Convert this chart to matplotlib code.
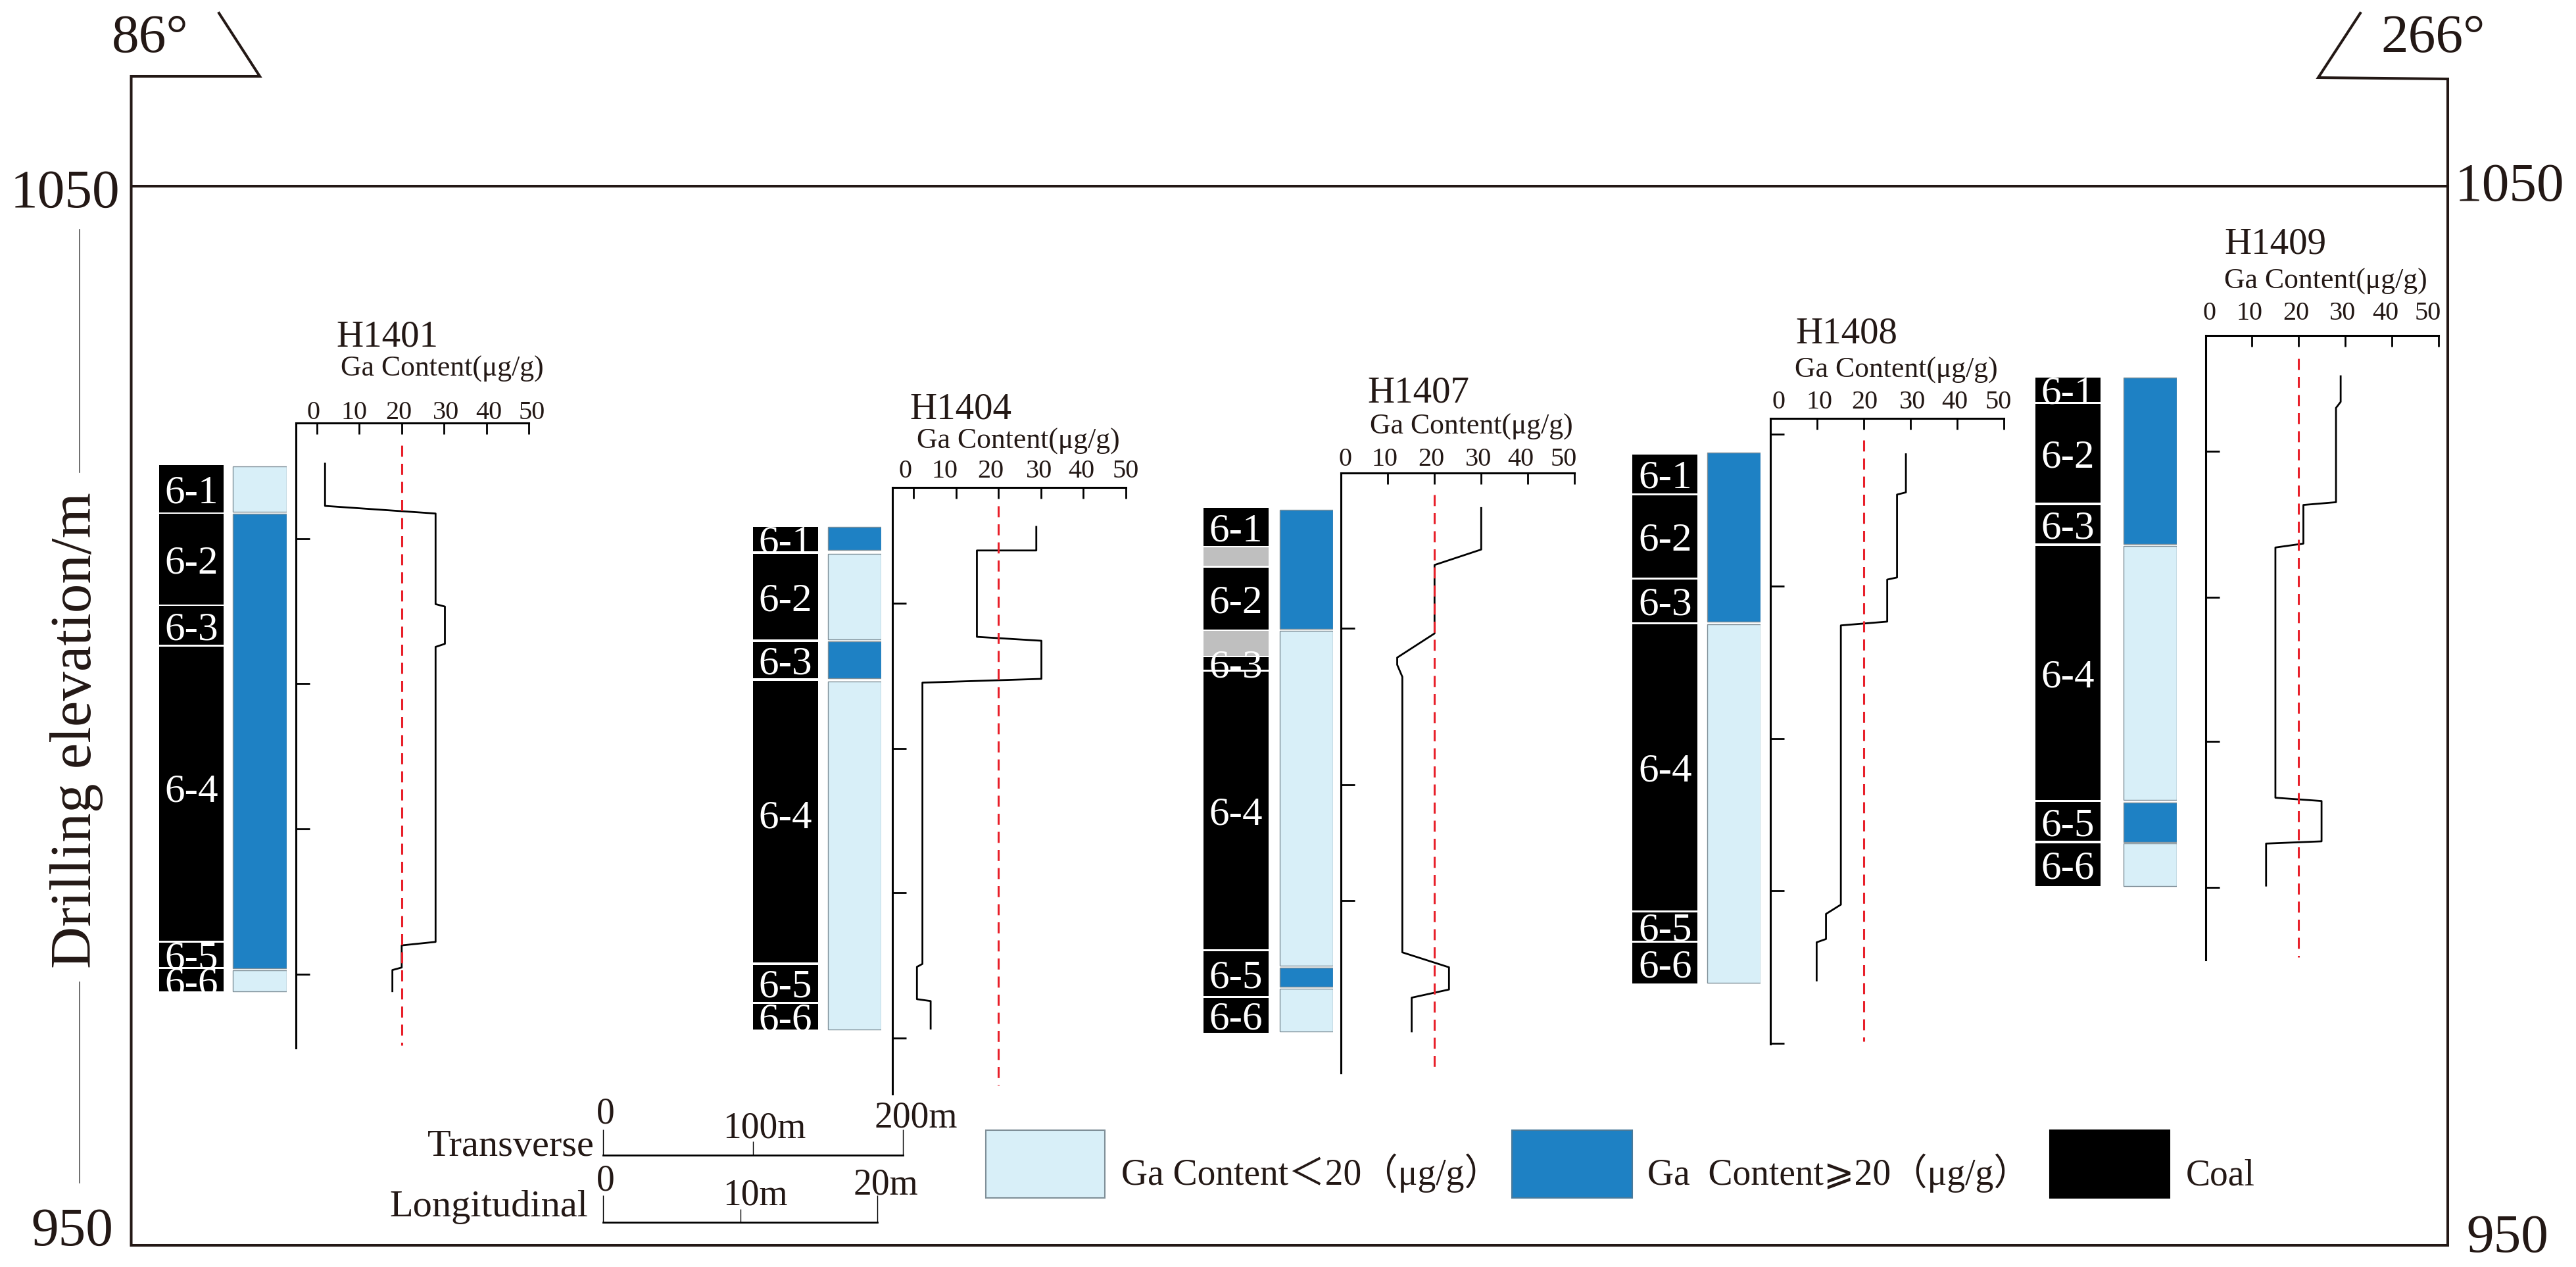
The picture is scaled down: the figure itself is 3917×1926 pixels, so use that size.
"""Ga content sections for drill holes H1401 to H1409."""

import matplotlib
matplotlib.use('Agg')
import matplotlib.pyplot as plt
from matplotlib.patches import Rectangle
from matplotlib.transforms import ScaledTranslation

plt.rcParams['font.family'] = ['Liberation Serif', 'DejaVu Serif', 'Noto Sans CJK SC', 'DejaVu Sans']

W, H = 3917, 1926
DPI = 100

INK = '#231815'
DARK = '#1e81c4'
LIGHT = '#d8eff8'
GREY = '#bfbfbf'
RED = '#e8202a'

layer_names = ['6-1', '6-2', '6-3', '6-4', '6-5', '6-6']
ga_ticks = [0, 10, 20, 30, 40, 50]

# all depths are elevations in metres
h1401_coal_top = [1023.58, 1018.97, 1010.26, 1006.41, 978.49, 975.97]
h1401_coal_bot = [1019.11, 1010.41, 1006.60, 978.68, 976.16, 973.88]
h1401_ga_top = [1023.44, 1018.97, 975.83]
h1401_ga_bot = [1019.20, 976.02, 973.88]
h1401_ga_high = [False, True, False]
h1401_curve_ga = [1.9, 1.9, 28, 28, 30.2, 30.2, 28, 28, 20, 20, 17.8, 17.8]
h1401_curve_el = [1023.72, 1019.73, 1019.01, 1010.45, 1010.22, 1006.70, 1006.41, 978.54, 978.21, 976.12, 975.88, 973.88]
h1401_ticks = [1016.64, 1002.94, 989.24, 975.50]

h1404_coal_top = [1017.75, 1015.20, 1006.86, 1003.21, 976.36, 972.67]
h1404_coal_bot = [1015.43, 1007.09, 1003.44, 976.59, 972.90, 970.26]
h1404_ga_top = [1017.75, 1015.20, 1006.90, 1003.12]
h1404_ga_bot = [1015.56, 1007.13, 1003.44, 970.26]
h1404_ga_high = [True, False, True, False]
h1404_curve_ga = [28.9, 28.9, 14.9, 14.9, 30.1, 30.1, 2.06, 2.06, 0.77, 0.77, 4.0, 4.0]
h1404_curve_el = [1017.75, 1015.52, 1015.52, 1007.36, 1006.99, 1003.39, 1003.03, 976.46, 976.18, 973.13, 972.95, 970.35]
h1404_ticks = [1010.55, 996.83, 983.16, 969.44]

h1407_coal_top = [1019.57, 1013.92, 1005.45, 1004.08, 977.64, 973.27]
h1407_coal_bot = [1015.93, 1008.04, 1004.26, 977.82, 973.45, 969.98]
h1407_gap_top = [1015.79, 1007.91]
h1407_gap_bot = [1014.06, 1005.58]
h1407_ga_top = [1019.39, 1007.91, 976.09, 974.13]
h1407_ga_bot = [1008.13, 976.27, 974.31, 970.08]
h1407_ga_high = [True, False, True, False]
h1407_curve_ga = [30, 30, 20, 20, 12, 12, 13.1, 13.1, 23.1, 23.1, 15.1, 15.1]
h1407_curve_el = [1019.53, 1015.61, 1014.15, 1007.68, 1005.40, 1004.72, 1003.58, 977.55, 976.14, 974.04, 973.27, 970.08]
h1407_ticks = [1008.18, 993.41, 982.43]

h1408_coal_top = [1024.61, 1020.75, 1012.77, 1008.54, 981.34, 978.45]
h1408_coal_bot = [1020.90, 1012.97, 1008.75, 981.54, 978.66, 974.64]
h1408_ga_top = [1024.77, 1008.54]
h1408_ga_bot = [1008.80, 974.69]
h1408_ga_high = [True, False]
h1408_curve_ga = [29, 29, 27.1, 27.1, 25, 25, 15.08, 15.08, 11.9, 11.9, 9.9, 9.9]
h1408_curve_el = [1024.61, 1021.01, 1020.80, 1012.97, 1012.77, 1008.80, 1008.44, 982.06, 981.18, 978.81, 978.50, 974.90]
h1408_ticks = [1026.52, 1012.15, 997.72, 983.35, 968.97]

h1409_coal_top = [1031.88, 1029.35, 1019.82, 1015.96, 991.74, 987.88]
h1409_coal_bot = [1029.56, 1020.03, 1016.17, 991.95, 988.09, 983.81]
h1409_ga_top = [1031.88, 1015.96, 991.69, 987.83]
h1409_ga_bot = [1016.11, 991.95, 987.98, 983.81]
h1409_ga_high = [True, False, True, False]
h1409_curve_ga = [29, 29, 28, 28, 21, 21, 15, 15, 24.9, 24.9, 13, 13]
h1409_curve_el = [1031.98, 1029.56, 1028.99, 1020.08, 1019.82, 1016.17, 1015.80, 992.16, 991.85, 988.04, 987.83, 983.86]
h1409_ticks = [1024.87, 1011.12, 997.46, 983.71]

ga_limit = 20
transverse_scale = [0, 100, 200]
longitudinal_scale = [0, 10, 20]

Y1050, Y950 = 282.0, 1891.0


def py(elev):
    return Y1050 + (1050 - elev) * (Y950 - Y1050) / 100.0


def add_ax(fig, left, top, right, bottom):
    return fig.add_axes([left / W, 1 - bottom / H, (right - left) / W, (bottom - top) / H])


# layout of each hole, all in pixels of the final picture
wells = [
    dict(name='H1401', coal=(h1401_coal_top, h1401_coal_bot), gaps=([], []),
         ga=(h1401_ga_top, h1401_ga_bot, h1401_ga_high),
         curve=(h1401_curve_ga, h1401_curve_el), ticks=h1401_ticks,
         col=(242, 340, 354, 436), x=(449.5, 804, -5.05), span=(1027.58, 968.55), red=(1025.43, 968.79),
         title=(511.3, 526.5, 41), sub=(517.7, 572, 31.5), gap=5.5, dx=[-6, -8, -4, 3, 4, 5], lift=0.6),
    dict(name='H1404', coal=(h1404_coal_top, h1404_coal_bot), gaps=([], []),
         ga=(h1404_ga_top, h1404_ga_bot, h1404_ga_high),
         curve=(h1404_curve_ga, h1404_curve_el), ticks=h1404_ticks,
         col=(1144.8, 1244.3, 1259.2, 1340.4), x=(1357, 1711.9, -5.01), span=(1021.49, 964.15), red=(1019.76, 964.97),
         title=(1383.6, 636.5, 41), sub=(1394, 682, 31.5), gap=14.7, dx=[-13, -17, -12, -3, -3, 0], lift=0.7),
    dict(name='H1407', coal=(h1407_coal_top, h1407_coal_bot), gaps=(h1407_gap_top, h1407_gap_bot),
         ga=(h1407_ga_top, h1407_ga_bot, h1407_ga_high),
         curve=(h1407_curve_ga, h1407_curve_el), ticks=h1407_ticks,
         col=(1829.6, 1929.1, 1945.7, 2026.9), x=(2039.4, 2394.2, 0), span=(1022.86, 966.16), red=(1020.81, 966.25),
         title=(2079, 612, 41), sub=(2083, 660, 31.5), gap=10, dx=[6, -5, -5, -4, -11, -17], lift=0),
    dict(name='H1408', coal=(h1408_coal_top, h1408_coal_bot), gaps=([], []),
         ga=(h1408_ga_top, h1408_ga_bot, h1408_ga_high),
         curve=(h1408_curve_ga, h1408_curve_el), ticks=h1408_ticks,
         col=(2482.1, 2581.3, 2595.5, 2676.8), x=(2692, 3047.3, 0), span=(1028.01, 968.92), red=(1025.95, 969.13),
         title=(2730, 522, 41), sub=(2728.6, 573.6, 31.5), gap=14, dx=[13, 3, 1, 3, -4, -9], lift=0),
    dict(name='H1409', coal=(h1409_coal_top, h1409_coal_bot), gaps=([], []),
         ga=(h1409_ga_top, h1409_ga_bot, h1409_ga_high),
         curve=(h1409_curve_ga, h1409_curve_el), ticks=h1409_ticks,
         col=(3094.7, 3193.8, 3228.6, 3309.9), x=(3353.6, 3708, 0), span=(1035.85, 976.86), red=(1033.68, 977.11),
         title=(3382, 386, 41), sub=(3382, 439, 31.5), gap=22.7, dx=[6, -4, -4, -4, -10, -16], lift=0),
]


def draw_columns(fig, w):
    x0, x1, x2, x3 = w['col']
    ax = add_ax(fig, x0, Y1050, x3, Y950)
    ax.set_xlim(x0, x3)
    ax.set_ylim(950, 1050)
    ax.axis('off')

    for t, b, name in zip(w['coal'][0], w['coal'][1], layer_names):
        bars = ax.bar((x0 + x1) / 2, t - b, x1 - x0, bottom=b, color='black', linewidth=0)
        mid = (t + b) / 2
        # the long seam label does not sit quite in the middle on two holes
        if name == '6-4':
            mid += w['lift']
        lab = ax.text((x0 + x1) / 2, mid, name, color='white', fontsize=44,
                      ha='center', va='center_baseline', zorder=5)
        # thin seams cut their label, H1407 6-3 runs over the parting instead
        if not w['gaps'][0]:
            lab.set_clip_path(bars.patches[0])
    for t, b in zip(*w['gaps']):
        ax.bar((x0 + x1) / 2, t - b, x1 - x0, bottom=b, color=GREY, linewidth=0)
    for t, b, high in zip(*w['ga']):
        ax.bar((x2 + x3) / 2, t - b, x3 - x2, bottom=b, color=DARK if high else LIGHT,
               edgecolor='#7f8f98', linewidth=1.0)


def draw_curve(fig, w):
    left, right, xmin = w['x']
    top, bottom = w['span']
    ax = add_ax(fig, left, py(top), right, py(bottom))
    ax.patch.set_visible(False)
    ax.set_xlim(xmin, 50)
    ax.set_ylim(bottom, top)

    ax.spines['right'].set_visible(False)
    ax.spines['bottom'].set_visible(False)
    for s in ['left', 'top']:
        ax.spines[s].set_linewidth(2.2)
        ax.spines[s].set_color('black')

    ax.set_xticks(ga_ticks)
    ax.set_yticks(w['ticks'])
    ax.tick_params(axis='x', direction='in', top=True, bottom=False, labeltop=True, labelbottom=False,
                   length=12, width=2, labelsize=29, labelcolor=INK, pad=(w['gap'] - 8.5) * 0.72)
    ax.tick_params(axis='y', direction='in', left=True, labelleft=False, length=15, width=2)
    for lab, dx in zip(ax.get_xticklabels(), w['dx']):
        lab.set_transform(lab.get_transform() + ScaledTranslation(dx / DPI, 0, fig.dpi_scale_trans))

    ax.plot(w['curve'][0], w['curve'][1], color='black', linewidth=2.0, clip_on=False, zorder=3)
    ax.plot([ga_limit, ga_limit], w['red'], color=RED, linewidth=2.2, dashes=(5.5, 3.5), clip_on=False, zorder=4)


def draw_scale(fig, values, left, right, y, end_h, mid_h):
    ax = add_ax(fig, left, y - 60, right, y)
    ax.patch.set_visible(False)
    ax.set_xlim(values[0], values[-1])
    for s in ['left', 'right', 'top']:
        ax.spines[s].set_visible(False)
    ax.spines['bottom'].set_linewidth(2.0)
    ax.set_yticks([])
    ax.set_xticks([values[0], values[-1]])
    ax.set_xticks([values[1]], minor=True)
    ax.tick_params(axis='x', which='major', direction='in', length=end_h * 0.72, width=1.0, labelbottom=False)
    ax.tick_params(axis='x', which='minor', direction='in', length=mid_h * 0.72, width=1.0, labelbottom=False)


def main():
    fig = plt.figure(figsize=(W / DPI, H / DPI), dpi=DPI, facecolor='white')

    # canvas in picture pixels for the frame, titles and legend
    base = fig.add_axes([0, 0, 1, 1])
    base.set_xlim(0, W)
    base.set_ylim(H, 0)
    base.axis('off')

    base.plot([333, 395, 199.5, 199.5, 3722, 3722, 3525, 3589],
              [20, 116, 116, 1893, 1893, 120, 118, 20], color=INK, linewidth=2.9, solid_joinstyle='miter')
    base.plot([199.5, 3722], [282.7, 282.7], color=INK, linewidth=2.9)

    big = dict(fontsize=60, color=INK, va='baseline')
    base.text(170, 79, '86°', **big)
    base.text(3620, 79, '266°', **big)
    base.text(16, 315, '1050', **big)
    base.text(3733, 305, '1050', **big)
    base.text(47, 1893, '950', **big)
    base.text(3750, 1903, '950', **big)

    base.text(138, 1110, 'Drilling elevation/m', fontsize=64, color=INK, rotation=90,
              ha='center', va='baseline', rotation_mode='anchor')
    base.plot([121, 121], [349, 718], color='#555555', linewidth=1.2)
    base.plot([121, 121], [1493, 1798], color='#555555', linewidth=1.2)

    for w in wells:
        tx, ty, ts = w['title']
        base.text(tx, ty, w['name'], fontsize=ts, color=INK, va='baseline')
        sx, sy, ss = w['sub']
        base.text(sx, sy, 'Ga Content(μg/g)', fontsize=ss, color=INK, va='baseline')
        draw_columns(fig, w)
        draw_curve(fig, w)

    # scale bars
    draw_scale(fig, transverse_scale, 917, 1372.7, 1756, 39, 21)
    draw_scale(fig, longitudinal_scale, 917, 1334, 1858, 41, 20)
    sc = dict(fontsize=40, color=INK, va='baseline')
    base.text(904, 1757, 'Transverse', ha='right', **{**sc, 'fontsize': 42})
    base.text(894, 1849, 'Longitudinal', ha='right', **{**sc, 'fontsize': 42})
    base.text(921, 1707, str(transverse_scale[0]), ha='center', **sc)
    base.text(921, 1809, str(longitudinal_scale[0]), ha='center', **sc)
    base.text(1099, 1729, '%dm' % transverse_scale[1], **sc)
    base.text(1329, 1713, '%dm' % transverse_scale[2], **sc)
    base.text(1099, 1832, '%dm' % longitudinal_scale[1], **sc)
    base.text(1298, 1815, '%dm' % longitudinal_scale[2], **sc)

    # legend
    items = [(1499, 181, LIGHT, '#7f8f98', 1705, 'Ga Content＜20（μg/g）'),
             (2298.5, 183, DARK, '#4a7a9a', 2505, 'Ga  Content⩾20（μg/g）'),
             (3117, 182, 'black', 'black', 3324, 'Coal')]
    for x, wd, fc, ec, tx, label in items:
        base.add_patch(Rectangle((x, 1718), wd, 103, facecolor=fc, edgecolor=ec, linewidth=1.5))
        base.text(tx, 1801, label, **sc)

    fig.savefig('out.png', dpi=DPI)


if __name__ == '__main__':
    main()
